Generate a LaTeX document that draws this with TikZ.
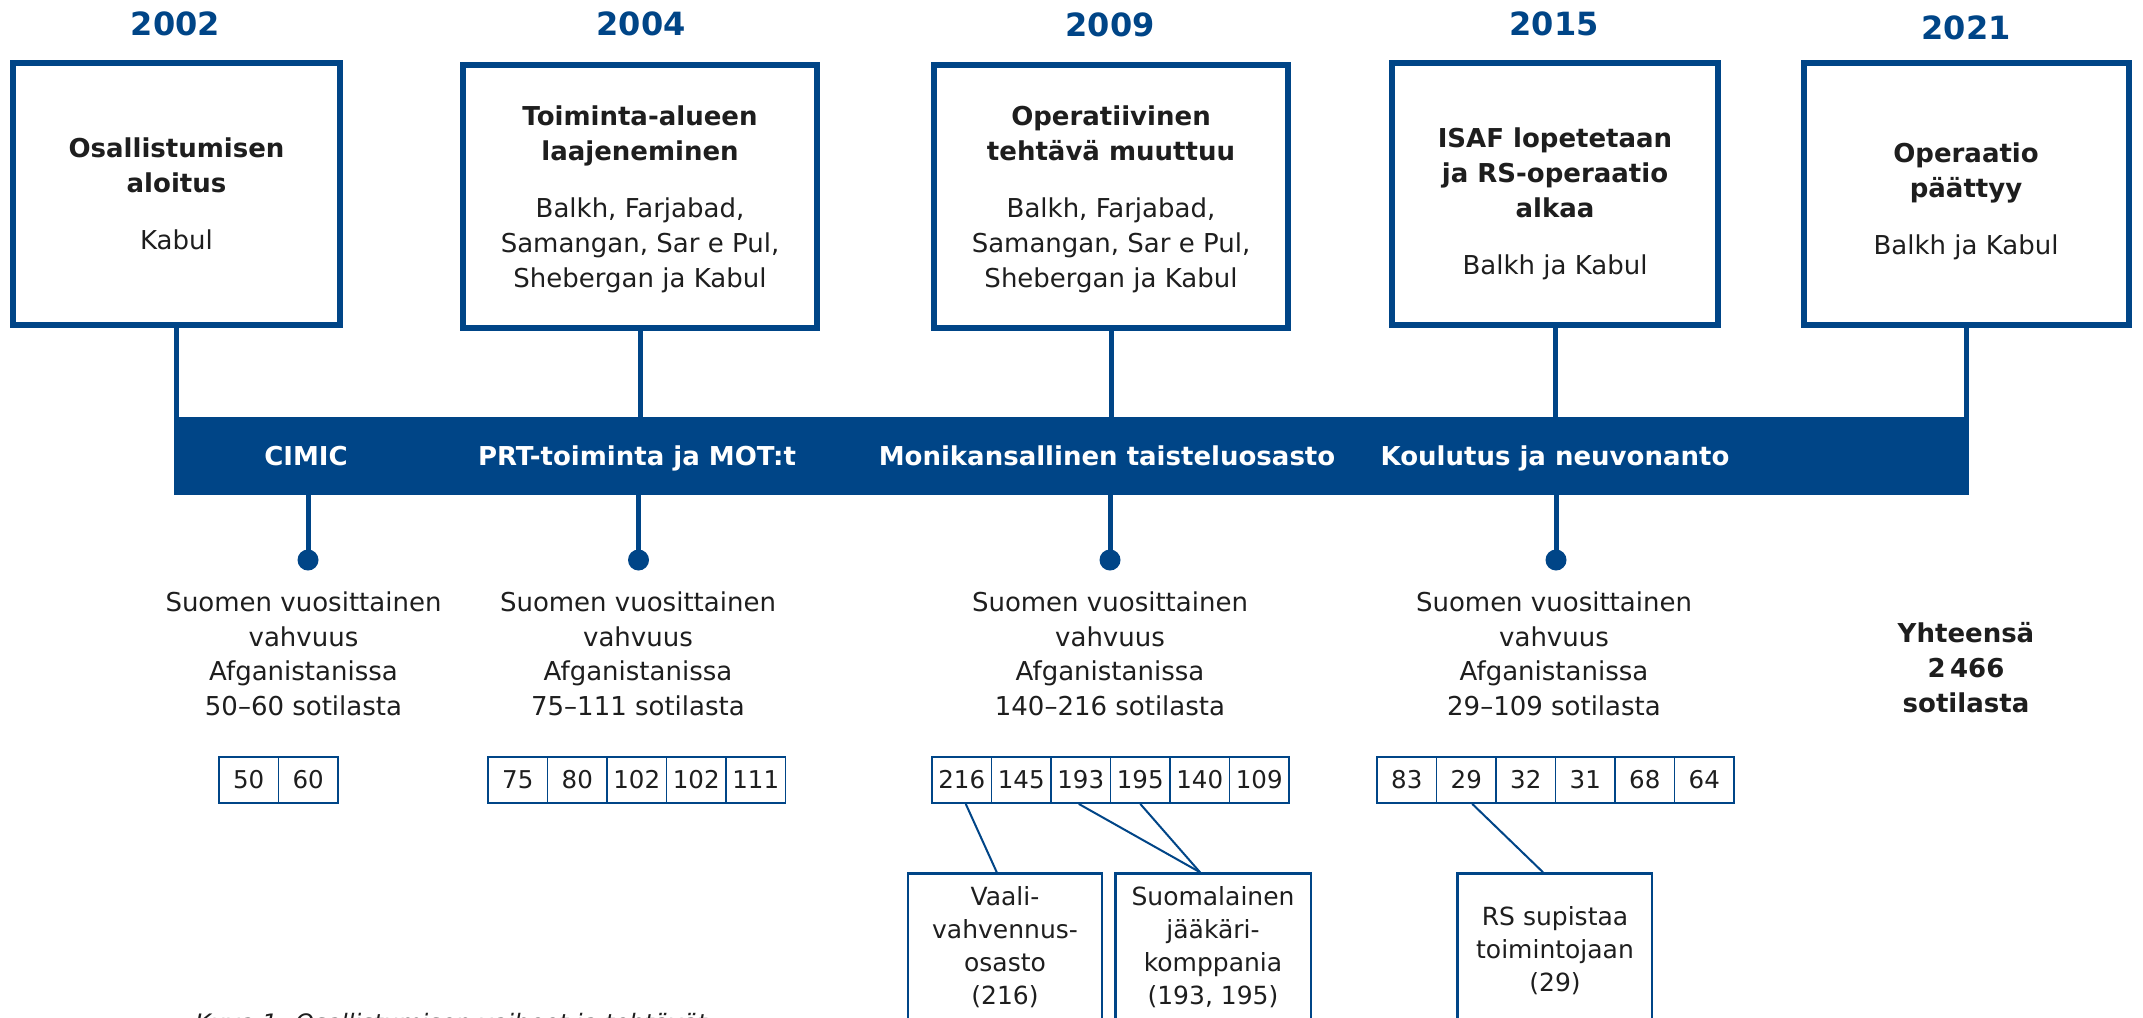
\documentclass[tikz,border=0pt]{standalone}
\usepackage{fontspec}
\setmainfont{DejaVu Sans}
\definecolor{fblue}{RGB}{0,69,135}
\definecolor{ftext}{RGB}{30,30,30}
\begin{document}
\begin{tikzpicture}[x=1pt,y=-1pt,
  yearlbl/.style={font=\fontsize{32}{38}\selectfont\bfseries, text=fblue, inner sep=0pt},
  evbox/.style={draw=fblue, line width=6pt, minimum height=262pt, inner sep=0pt},
  evtext/.style={align=center, text=ftext, font=\fontsize{26}{35}\selectfont, inner sep=0pt},
  barlbl/.style={anchor=base, text=white, font=\fontsize{26}{30}\selectfont\bfseries, inner sep=0pt},
  vconn/.style={draw=fblue, line width=5pt},
  dotnode/.style={circle, fill=fblue, minimum size=21pt, inner sep=0pt},
  infotext/.style={align=center, text=ftext, font=\fontsize{26}{34.5}\selectfont, inner sep=0pt},
  numcell/.style={draw=fblue, line width=1.8pt, minimum width=59.5pt, minimum height=46pt, inner sep=0pt, text=ftext, font=\fontsize{24.5}{28}\selectfont},
  thinconn/.style={draw=fblue, line width=2pt},
  notebox/.style={draw=fblue, line width=2.5pt, anchor=north, minimum height=190pt, inner sep=0pt},
  notetext/.style={align=center, text=ftext, font=\fontsize{25}{33}\selectfont, inner sep=0pt}
]
\useasboundingbox (0,0) rectangle (2143,1017);
\fill[white] (0,0) rectangle (2143,1017);

% years
\node[yearlbl] (y1) at (175.5,24) {2002};
\node[yearlbl] (y2) at (641,24) {2004};
\node[yearlbl] (y3) at (1110,25) {2009};
\node[yearlbl] (y4) at (1554,24) {2015};
\node[yearlbl] (y5) at (1966,28) {2021};

% event boxes
\node[evbox, minimum width=326.5pt] (b1) at (176.5,194) {};
\node[evbox, minimum width=354pt, minimum height=263pt] (b2) at (640,196.5) {};
\node[evbox, minimum width=354pt, minimum height=263pt] (b3) at (1111,196.5) {};
\node[evbox, minimum width=326pt] (b4) at (1555,194) {};
\node[evbox, minimum width=325pt] (b5) at (1966,194) {};

\node[evtext] (t1) at (176.5,193.5) {\textbf{Osallistumisen}\\\textbf{aloitus}\\[22pt]Kabul};
\node[evtext] (t2) at (640,199.5) {\textbf{Toiminta-alueen}\\\textbf{laajeneminen}\\[22pt]Balkh, Farjabad,\\Samangan, Sar e Pul,\\Shebergan ja Kabul};
\node[evtext] (t3) at (1111,199.5) {\textbf{Operatiivinen}\\\textbf{tehtävä muuttuu}\\[22pt]Balkh, Farjabad,\\Samangan, Sar e Pul,\\Shebergan ja Kabul};
\node[evtext] (t4) at (1555,204) {\textbf{ISAF lopetetaan}\\\textbf{ja RS-operaatio}\\\textbf{alkaa}\\[22pt]Balkh ja Kabul};
\node[evtext] (t5) at (1966,201.5) {\textbf{Operaatio}\\\textbf{päättyy}\\[22pt]Balkh ja Kabul};

% bar
\node[fill=fblue, minimum width=1794.5pt, minimum height=78pt, inner sep=0pt] (bar) at (1071.25,456) {};
\foreach \b in {b1,b2,b3,b4,b5}
  \draw[vconn] (\b.south) -- (\b.south |- bar.north);

\node[barlbl] (l1) at (306,465) {CIMIC};
\node[barlbl] (l2) at (637,465) {PRT-toiminta ja MOT:t};
\node[barlbl] (l3) at (1107,465) {Monikansallinen taisteluosasto};
\node[barlbl] (l4) at (1555,465) {Koulutus ja neuvonanto};

% stems and dots
\node[dotnode] (d1) at (308,560) {};
\node[dotnode] (d2) at (638.5,560) {};
\node[dotnode] (d3) at (1110,560) {};
\node[dotnode] (d4) at (1556,560) {};
\foreach \d in {d1,d2,d3,d4}
  \draw[vconn] (\d.center) -- (\d.center |- bar.south);

% strength texts
\node[infotext] (s1) at (303.5,654) {Suomen vuosittainen\\vahvuus\\Afganistanissa\\50–60 sotilasta};
\node[infotext] (s2) at (638,654) {Suomen vuosittainen\\vahvuus\\Afganistanissa\\75–111 sotilasta};
\node[infotext] (s3) at (1110,654) {Suomen vuosittainen\\vahvuus\\Afganistanissa\\140–216 sotilasta};
\node[infotext] (s4) at (1554,654) {Suomen vuosittainen\\vahvuus\\Afganistanissa\\29–109 sotilasta};
\node[align=center, text=ftext, font=\fontsize{26}{35}\selectfont\bfseries, inner sep=0pt] (tot) at (1966,668) {Yhteensä\\2\,466\\sotilasta};

% number cells
\foreach \v [count=\i] in {50,60}
  \node[numcell] (ra\i) at ({219+59.5*\i-29.75},780) {\v};
\foreach \v [count=\i] in {75,80,102,102,111}
  \node[numcell] (rb\i) at ({488+59.5*\i-29.75},780) {\v};
\foreach \v [count=\i] in {216,145,193,195,140,109}
  \node[numcell] (rc\i) at ({932+59.5*\i-29.75},780) {\v};
\foreach \v [count=\i] in {83,29,32,31,68,64}
  \node[numcell] (rd\i) at ({1377+59.5*\i-29.75},780) {\v};

% note boxes
\node[notebox, minimum width=194pt] (vbox) at (1004.75,872.25) {};
\node[notebox, minimum width=195.5pt] (sbox) at (1213,872.25) {};
\node[notebox, minimum width=194.5pt] (rbox) at (1554.5,872.25) {};

\node[notetext] (vtxt) at (1005,947) {Vaali-\\vahvennus-\\osasto\\(216)};
\node[notetext] (stxt) at (1213,947) {Suomalainen\\jääkäri-\\komppania\\(193, 195)};
\node[notetext] (rtxt) at (1555,951) {RS supistaa\\toimintojaan\\(29)};

\draw[thinconn] ([xshift=4pt]rc1.south) -- ([xshift=-8pt]vbox.north);
\draw[thinconn] ([xshift=-2pt]rc3.south) -- ([xshift=-13pt]sbox.north);
\draw[thinconn] (rc4.south) -- ([xshift=-13pt]sbox.north);
\draw[thinconn] ([xshift=6pt]rd2.south) -- ([xshift=-11.5pt]rbox.north);

% caption (cut off by page edge, as in the reference)
\node[anchor=base west, inner sep=0pt, text=ftext, font=\fontsize{24}{28}\selectfont\itshape] (cap) at (195,1031) {Kuva 1. Osallistumisen vaiheet ja tehtävät};
\end{tikzpicture}
\end{document}
